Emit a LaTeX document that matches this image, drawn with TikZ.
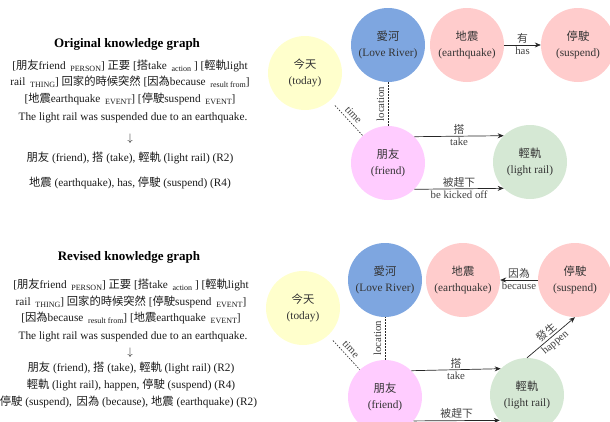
\documentclass[tikz,border=0pt]{standalone}
\usepackage{fontspec}
\setmainfont{Liberation Serif}
\newfontfamily\cjk{Noto Sans CJK TC}
\usetikzlibrary{arrows.meta}
\newcommand\zh[1]{{\cjk #1}}
\newcommand\subt[1]{\,\raisebox{-0.45ex}{\fontsize{8}{9}\selectfont #1}}
\definecolor{cblue}{HTML}{7EA6E0}
\definecolor{cpink}{HTML}{FFCCCC}
\definecolor{cyel}{HTML}{FFFFCC}
\definecolor{cmag}{HTML}{FFCCFF}
\definecolor{cgrn}{HTML}{D5E8D4}
\begin{document}
\begin{tikzpicture}[x=1pt,y=1pt,
  ent/.style={circle, minimum size=74pt, inner sep=0pt, align=center,
    font=\fontsize{11.3}{15.5}\selectfont, text=black!80},
  lbl/.style={font=\fontsize{10.8}{12}\selectfont, text=black!75, inner sep=1.5pt},
  slbl/.style={lbl, sloped, above, inner sep=3.5pt},
  arr/.style={-{Stealth[length=6pt,width=5pt]}, line width=0.7pt, black!85},
  dsh/.style={dash pattern=on 1.6pt off 1.4pt, line width=0.6pt, black!85},
  txt/.style={font=\fontsize{11.3}{13}\selectfont, inner sep=0pt, text=black!90},
  ttl/.style={font=\bfseries\fontsize{13}{15}\selectfont, inner sep=0pt}]
\useasboundingbox (0,0) rectangle (610,-421);
\clip (0,0) rectangle (610,-421);

% ---------- left column, original ----------
\node[ttl] (t1) at (127,-44) {Original knowledge graph};
\node[txt] (a1) at (130,-66) {[\zh{朋友}friend \subt{PERSON}] \zh{正要} [\zh{搭}take \subt{action} ] [\zh{輕軌}light};
\node[txt] (a2) at (130,-82) {rail \subt{THING}] \zh{回家的時候突然} [\zh{因為}because \subt{result from}]};
\node[txt] (a3) at (130,-99) {[\zh{地震}earthquake \subt{EVENT}] [\zh{停駛}suspend \subt{EVENT}]};
\node[txt] (a4) at (133,-118) {The light rail was suspended due to an earthquake.};
\node[txt] (a5) at (130,-139) {$\downarrow$};
\node[txt] (a6) at (130,-158) {\zh{朋友} (friend), \zh{搭} (take), \zh{輕軌} (light rail) (R2)};
\node[txt] (a7) at (130,-183) {\zh{地震} (earthquake), has, \zh{停駛} (suspend) (R4)};

% ---------- left column, revised ----------
\node[ttl] (t2) at (129,-257) {Revised knowledge graph};
\node[txt] (b1) at (131,-285) {[\zh{朋友}friend \subt{PERSON}] \zh{正要} [\zh{搭}take \subt{action} ] [\zh{輕軌}light};
\node[txt] (b2) at (131,-302) {rail \subt{THING}] \zh{回家的時候突然} [\zh{停駛}suspend \subt{EVENT}]};
\node[txt] (b3) at (131,-318) {[\zh{因為}because \subt{result from}] [\zh{地震}earthquake \subt{EVENT}]};
\node[txt] (b4) at (133,-337) {The light rail was suspended due to an earthquake.};
\node[txt] (b5) at (130,-353) {$\downarrow$};
\node[txt] (b6) at (131,-368) {\zh{朋友} (friend), \zh{搭} (take), \zh{輕軌} (light rail) (R2)};
\node[txt] (b7) at (131,-385) {\zh{輕軌} (light rail), happen, \zh{停駛} (suspend) (R4)};
\node[txt] (b8) at (128.5,-402) {\zh{停駛} (suspend),\, \zh{因為} (because), \zh{地震} (earthquake) (R2)};

% ---------- top graph ----------
\node[ent, fill=cblue] (love1) at (388,-45) {\zh{愛河}\\(Love River)};
\node[ent, fill=cpink] (quake1) at (467,-45) {\zh{地震}\\(earthquake)};
\node[ent, fill=cpink] (susp1) at (578,-45) {\zh{停駛}\\(suspend)};
\node[ent, fill=cyel] (today1) at (305,-73) {\zh{今天}\\(today)};
\node[ent, fill=cmag] (friend1) at (388,-163) {\zh{朋友}\\(friend)};
\node[ent, fill=cgrn] (rail1) at (530,-162) {\zh{輕軌}\\(light rail)};

\draw[arr] (quake1.east) -- node[lbl, above] {\zh{有}} node[lbl, below] {has} (susp1.west);
\draw[dsh] (friend1.north) -- node[slbl] {location} (love1.south);
\draw[dsh, shorten <=7pt] (today1) -- node[slbl, pos=0.55] {time} (friend1);
\draw[arr] (friend1.45) -- node[lbl, above] {\zh{搭}} node[lbl, below] {take} (rail1.135);
\draw[arr] (friend1.-45) -- node[lbl, above] {\zh{被趕下}} node[lbl, below] {be kicked off} (rail1.-135);

% ---------- bottom graph ----------
\node[ent, fill=cblue] (love2) at (385,-280) {\zh{愛河}\\(Love River)};
\node[ent, fill=cpink] (quake2) at (463,-280) {\zh{地震}\\(earthquake)};
\node[ent, fill=cpink] (susp2) at (575,-280) {\zh{停駛}\\(suspend)};
\node[ent, fill=cyel] (today2) at (303,-308) {\zh{今天}\\(today)};
\node[ent, fill=cmag] (friend2) at (385,-397) {\zh{朋友}\\(friend)};
\node[ent, fill=cgrn] (rail2) at (527,-395) {\zh{輕軌}\\(light rail)};

\draw[arr] (susp2.west) -- node[lbl, above] {\zh{因為}} node[lbl, below] {because} (quake2.east);
\draw[dsh] (friend2.north) -- node[slbl] {location} (love2.south);
\draw[dsh, shorten <=7pt] (today2) -- node[slbl, pos=0.55] {time} (friend2);
\draw[arr] (friend2.45) -- node[lbl, above] {\zh{搭}} node[lbl, below] {take} (rail2.135);
\draw[arr] (friend2.-40) -- node[lbl, above] {\zh{被趕下}} node[lbl, below] {be kicked off} (rail2.-137);
\draw[arr] (rail2.north) -- node[lbl, above, sloped] {\zh{發生}} node[lbl, below, sloped] {happen} (susp2.south);
\end{tikzpicture}
\end{document}
